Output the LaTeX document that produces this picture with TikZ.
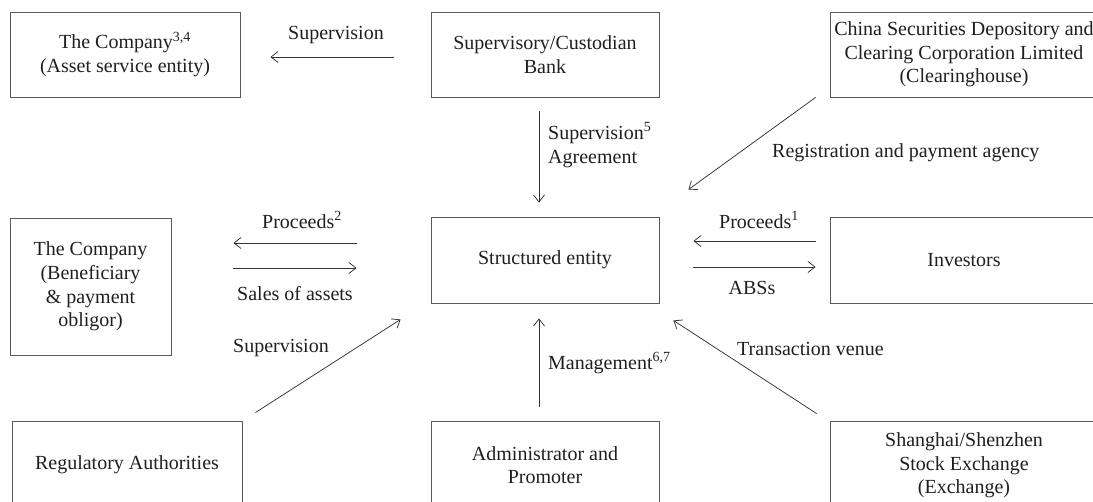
\documentclass[tikz,border=0pt]{standalone}
\usepackage{fontspec}
\setmainfont{Liberation Serif}
\usetikzlibrary{arrows.meta,calc}
\begin{document}
\begin{tikzpicture}[x=1pt,y=-1pt,
  box/.style={draw=black!65,line width=0.9pt,inner sep=2pt,align=center,
    text=black!88,font=\fontsize{20}{23.6}\selectfont},
  lbl/.style={inner sep=0pt,text=black!88,font=\fontsize{20}{24}\selectfont},
  arr/.style={draw=black!80,line width=0.75pt,-{Straight Barb[length=7pt,width=11pt]}},
  ln/.style={draw=black!80,line width=0.75pt}]
\useasboundingbox (0,0) rectangle (1093,502);
\clip (0,0) rectangle (1093,502);
% boxes
\node[box,minimum width=230pt,minimum height=85pt] (comp1) at (125,54.5) {The Company\textsuperscript{3,4}\\(Asset service entity)};
\node[box,minimum width=228pt,minimum height=85pt] (bank) at (545,54.5) {Supervisory/Custodian\\Bank};
\node[box,minimum width=268pt,minimum height=85pt] (csdc) at (964,54.5) {China Securities Depository and\\Clearing Corporation Limited\\(Clearinghouse)};
\node[box,minimum width=161pt,minimum height=137pt] (comp2) at (90.5,286.5) {The Company\\(Beneficiary\\\& payment\\obligor)};
\node[box,minimum width=228pt,minimum height=86pt] (se) at (545,260) {Structured entity};
\node[box,minimum width=268pt,minimum height=86pt] (inv) at (964,260) {Investors};
\node[box,minimum width=230pt,minimum height=88pt] (reg) at (127,465) {Regulatory Authorities};
\node[box,minimum width=228pt,minimum height=88pt] (adm) at (545,465) {Administrator and\\Promoter};
\node[box,minimum width=268pt,minimum height=88pt] (sse) at (964,465.5) {Shanghai/Shenzhen\\Stock Exchange\\(Exchange)};
% connectors
\draw[arr] ($(bank.west)+(-37,2.5)$) -- ($(comp1.east)+(30,2.5)$);
\draw[arr] ($(bank.south)+(-6,14)$) -- ($(se.north)+(-6,-14)$);
\draw[arr] ($(csdc.south west)+(-14,0)$) -- ($(se.north east)+(29,-27)$);
\draw[arr] ($(se.west)+(-74,-17)$) -- ($(comp2.east)+(62,-43.5)$);
\draw[arr] ($(comp2.east)+(62,-18.5)$) -- ($(se.west)+(-74,8)$);
\draw[arr] ($(inv.west)+(-14,-19)$) -- ($(se.east)+(34,-19)$);
\draw[arr] ($(se.east)+(34,7)$) -- ($(inv.west)+(-14,7)$);
\draw[arr] ($(reg.north east)+(13,-8)$) -- ($(se.south west)+(-30,16)$);
\draw[arr] ($(adm.north)+(-6,-14)$) -- ($(se.south)+(-6,15)$);
\draw[arr] ($(sse.north west)+(-13,-7.5)$) -- ($(se.south east)+(14,17)$);
% labels
\node[lbl] (l1) at (336,35) {Supervision};
\node[lbl,anchor=west,align=left] (l2) at (548,145) {Supervision\textsuperscript{5}\\Agreement};
\node[lbl,anchor=west] (l3) at (772,153) {Registration and payment agency};
\node[lbl] (l4) at (302,220) {Proceeds\textsuperscript{2}};
\node[lbl] (l5) at (295,294) {Sales of assets};
\node[lbl] (l6) at (759,220) {Proceeds\textsuperscript{1}};
\node[lbl] (l7) at (752,288) {ABSs};
\node[lbl] (l8) at (281,348) {Supervision};
\node[lbl,anchor=west] (l9) at (548,363) {Management\textsuperscript{6,7}};
\node[lbl,anchor=west] (l10) at (737,349) {Transaction venue};
\end{tikzpicture}
\end{document}
